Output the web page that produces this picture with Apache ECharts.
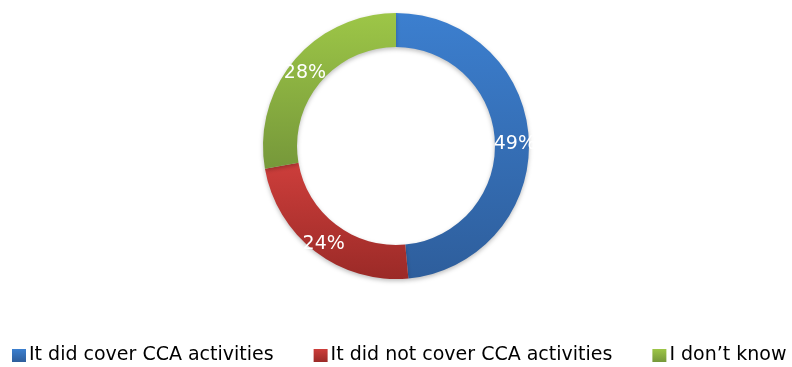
<!DOCTYPE html>
<html>
<head>
<meta charset="utf-8">
<script src="https://cdn.jsdelivr.net/npm/echarts@6/dist/echarts.min.js"></script>
<style>
  html, body { margin: 0; padding: 0; background: #fff; }
  #chart { width: 792px; height: 367px; }
</style>
</head>
<body>
<div id="chart"></div>
<script>
const categories = ['It did cover CCA activities', 'It did not cover CCA activities', 'I don\u2019t know']
const values = [49, 24, 28]
const colorsTop = ['#3c7fcf', '#cd3e3b', '#9dc647']
const colorsBottom = ['#2e5e9c', '#9b2a27', '#76983a']

const grad = (top, bottom) => new echarts.graphic.LinearGradient(0, 0, 0, 1, [
    { offset: 0, color: top },
    { offset: 1, color: bottom }
])

const options = {
    animation: false,
    legend: {
        top: 346,
        left: 12,
        width: 780,
        padding: 0,
        icon: 'rect',
        itemWidth: 14,
        itemHeight: 13,
        itemGap: 40,
        textStyle: {
            fontFamily: 'DejaVu Sans',
            fontSize: 19,
            color: '#000',
            padding: [0, 0, 0, -2]
        },
        data: categories
    },
    series: [
        {
            type: 'pie',
            center: [396, 146],
            radius: [99, 133],
            startAngle: 90,
            clockwise: true,
            label: {
                show: true,
                position: 'inside',
                formatter: '{c}%',
                color: '#fff',
                fontFamily: 'DejaVu Sans',
                fontSize: 19,
                offset: [0, 4]
            },
            labelLine: { show: false },
            itemStyle: {
                shadowBlur: 4,
                shadowColor: 'rgba(0,0,0,0.25)',
                shadowOffsetY: 2
            },
            data: categories.map((name, i) => ({
                name: name,
                value: values[i],
                itemStyle: { color: grad(colorsTop[i], colorsBottom[i]) }
            }))
        }
    ]
}

const chart = echarts.init(document.getElementById('chart'))
chart.setOption(options)
</script>
</body>
</html>
